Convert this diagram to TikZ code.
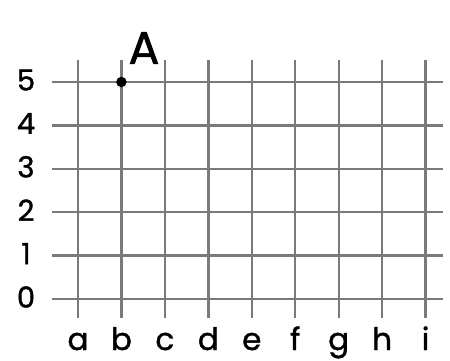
\documentclass[tikz,border=0pt]{standalone}
\usepackage{fontspec}
\setmainfont{Poppins}[FakeBold=1.2]
\begin{document}
\begin{tikzpicture}[x=1pt,y=-1pt,
  gridline/.style={draw=black!52, line width=2.3pt},
  numlabel/.style={font=\fontsize{29}{29}\selectfont, anchor=center, inner sep=0pt},
  letlabel/.style={font=\fontsize{31}{31}\selectfont, anchor=base, inner sep=0pt, text depth=0pt},
  ptdot/.style={circle, fill=black, minimum size=10.5pt, inner sep=0pt}]
\useasboundingbox (0,0) rectangle (450,360);
\foreach \i/\l in {0/a,1/b,2/c,3/d,4/e,5/f,6/g,7/h,8/i}{
  \pgfmathsetmacro{\xx}{78+43.45*\i}
  \coordinate (vt\l) at (\xx,60);
  \coordinate (vb\l) at (\xx,318);
  \draw[gridline] (vt\l) -- (vb\l);
  \node[letlabel] (lab\l) at (\xx,350) {\l};
}
\foreach \j in {0,...,5}{
  \pgfmathsetmacro{\yy}{299-43.4*\j}
  \coordinate (hl\j) at (52,\yy);
  \coordinate (hr\j) at (443,\yy);
  \draw[gridline] (hl\j) -- (hr\j);
  \node[numlabel] (num\j) at (26,\yy-2) {\j};
}
\node[ptdot] (ptA) at (121.4,82) {};
\node[font=\fontsize{46}{46}\selectfont, inner sep=0pt] (labA) at (144,48) {A};
\end{tikzpicture}
\end{document}
